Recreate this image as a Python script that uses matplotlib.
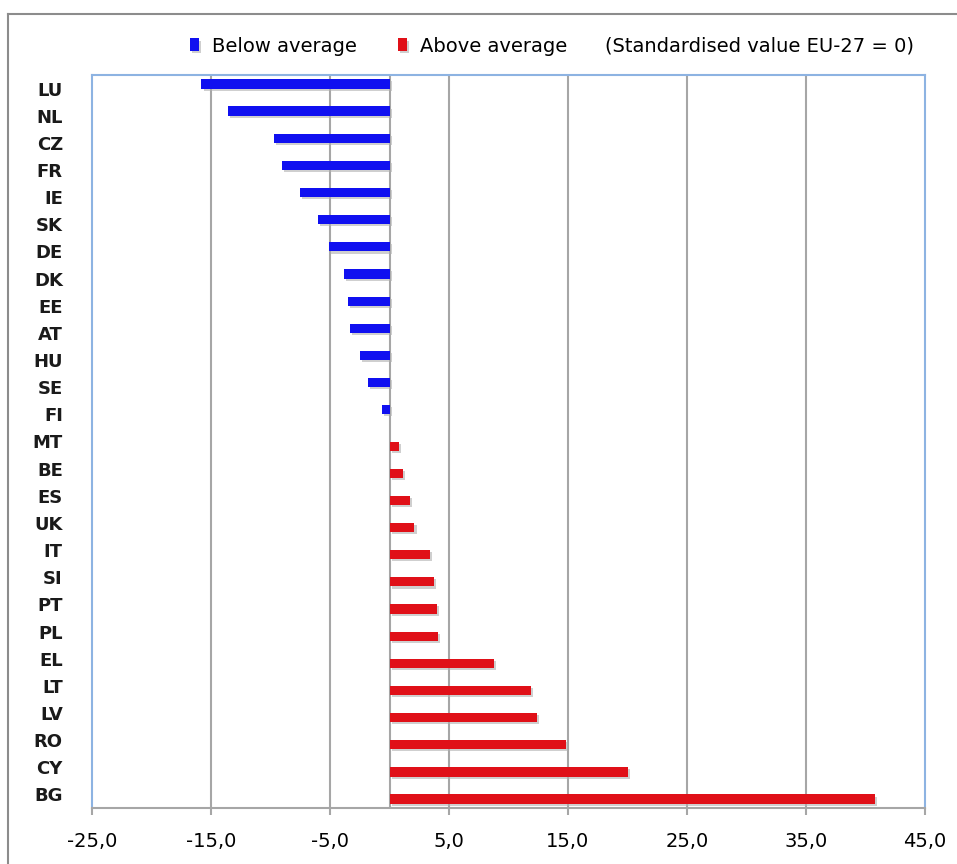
import matplotlib
matplotlib.use('Agg')
import matplotlib.pyplot as plt
import matplotlib.patheffects as pe
from matplotlib.lines import Line2D
import numpy as np

plt.rcParams['font.family'] = ['DejaVu Sans']

# ------------------------------------------------------------
# data (standardised value, EU-27 = 0)
# ------------------------------------------------------------
countries = ['LU', 'NL', 'CZ', 'FR', 'IE', 'SK', 'DE', 'DK', 'EE', 'AT', 'HU', 'SE', 'FI',
             'MT', 'BE', 'ES', 'UK', 'IT', 'SI', 'PT', 'PL', 'EL', 'LT', 'LV', 'RO', 'CY', 'BG']
values = [-15.8, -13.6, -9.7, -9.0, -7.5, -6.0, -5.1, -3.8, -3.5, -3.3, -2.5, -1.8, -0.6,
          0.8, 1.1, 1.7, 2.1, 3.4, 3.7, 4.0, 4.1, 8.8, 11.9, 12.4, 14.8, 20.0, 40.8]
x_ticks = [-25, -15, -5, 5, 15, 25, 35, 45]

blue = '#1010f0'
red = '#e01018'
grid_c = '#a6a6a6'
spine_c = '#8db3e2'

vals = np.array(values)
y = np.arange(len(countries))
below = np.where(vals < 0, vals, 0)
above = np.where(vals > 0, vals, 0)

fig = plt.figure(figsize=(9.57, 8.64), dpi=100)
ax = fig.add_axes([92/957, 1-808/864, (925-92)/957, (808-75)/864])

shadow = [pe.SimplePatchShadow(offset=(1.5, -1.5), shadow_rgbFace='#b0b0b0', alpha=0.6), pe.Normal()]
h = 0.34
b1 = ax.barh(y - 0.17, below, height=h, color=blue, label='Below average', zorder=3)
b2 = ax.barh(y + 0.17, above, height=h, color=red, label='Above average', zorder=3)
for r in list(b1) + list(b2):
    r.set_path_effects(shadow)

ax.set_xlim(-25, 45)
ax.set_ylim(len(countries) - 0.5, -0.5)
ax.set_xticks(x_ticks)
ax.set_xticklabels([f'{t:.1f}'.replace('.', ',') for t in x_ticks], fontsize=14)
ax.set_yticks(y)
ax.set_yticklabels(countries, fontsize=13, fontweight='bold', color='#1a1a1a')
ax.tick_params(axis='y', length=0, pad=21)
ax.tick_params(axis='x', length=5, color=grid_c, width=1.5, pad=12)

for t in x_ticks[1:-1]:
    ax.axvline(t, color=grid_c, lw=1.5, zorder=1)
ax.axvline(0, color=grid_c, lw=1.5, zorder=2)

for s in ['left', 'top', 'right']:
    ax.spines[s].set_color(spine_c)
    ax.spines[s].set_linewidth(1.5)
ax.spines['bottom'].set_color(grid_c)
ax.spines['bottom'].set_linewidth(1.5)

leg = fig.legend(handles=[b1, b2], loc='center left', bbox_to_anchor=(190/957, 1-46/864),
                 ncol=2, frameon=False, fontsize=14, handlelength=0.45, handleheight=0.6,
                 handletextpad=0.7, columnspacing=2.1, borderpad=0, borderaxespad=0)
fig.text(605/957, 1-46/864, '(Standardised value EU-27 = 0)', fontsize=14, va='center', ha='left')

# outer chart border
fig.add_artist(Line2D([8/957, 1.0], [1-14/864, 1-14/864], color='#8c8c8c', lw=1.5))
fig.add_artist(Line2D([8/957, 8/957], [0, 1-14/864], color='#8c8c8c', lw=1.5))

fig.savefig('out.png', dpi=100)
